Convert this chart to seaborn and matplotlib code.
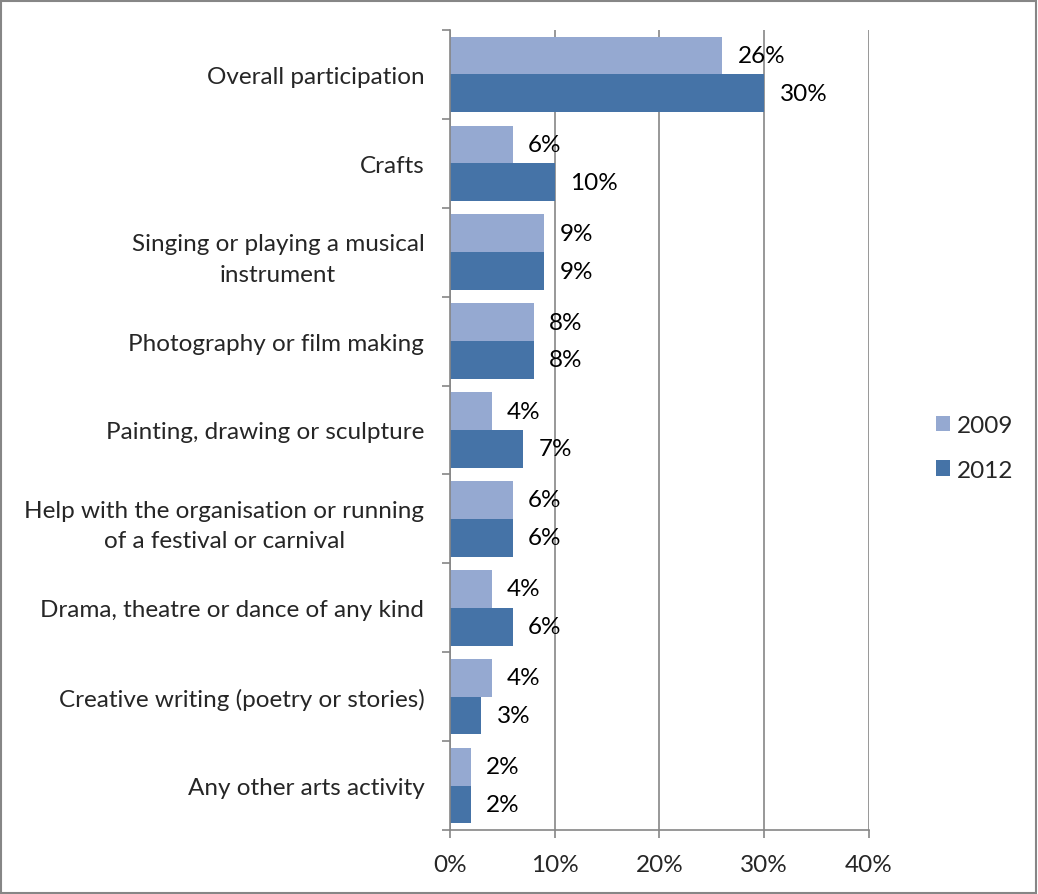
import matplotlib
matplotlib.use("Agg")
import matplotlib.pyplot as plt
import seaborn as sns
import pandas as pd
import numpy as np
from matplotlib.patches import Rectangle

categories = [
    "Overall participation",
    "Crafts",
    "Singing or playing a musical\ninstrument",
    "Photography or film making",
    "Painting, drawing or sculpture",
    "Help with the organisation or running\nof a festival or carnival",
    "Drama, theatre or dance of any kind",
    "Creative writing (poetry or stories)",
    "Any other arts activity",
]
values_2009 = [26, 6, 9, 8, 4, 6, 4, 4, 2]
values_2012 = [30, 10, 9, 8, 7, 6, 6, 3, 2]
years = ["2009", "2012"]
x_ticks = [0, 10, 20, 30, 40]

df = pd.DataFrame({
    "category": categories * 2,
    "year": [years[0]] * len(categories) + [years[1]] * len(categories),
    "value": values_2009 + values_2012,
})

sns.set_style("white")
plt.rcParams["font.family"] = ["Lato", "DejaVu Sans"]
FS = 17.5

fig = plt.figure(figsize=(10.38, 8.95), dpi=100)
ax = fig.add_axes([0.4335, 0.0715, 0.8372 - 0.4335, 0.9654 - 0.0715])

palette = {"2009": "#95A9D1", "2012": "#4573A7"}
sns.barplot(data=df, y="category", x="value", hue="year", orient="h",
            palette=palette, width=0.85, ax=ax, saturation=1,
            order=categories, hue_order=years, legend=True, linewidth=0)

for container in ax.containers:
    vals = [int(round(b.get_width())) for b in container]
    ax.bar_label(container, labels=[f"{v}%" for v in vals], padding=11,
                 fontsize=FS, color="black")

grey = "#868686"
ax.set_xlim(0, 40)
ax.set_ylim(len(categories) - 0.5, -0.5)
ax.set_xticks(x_ticks)
ax.set_xticklabels([f"{t}%" for t in x_ticks], fontsize=FS)
ax.xaxis.grid(True, color=grey, linewidth=1.2)
ax.set_axisbelow(True)
ax.tick_params(axis="x", length=6, width=1.2, color=grey, pad=11, bottom=True)

ax.set_yticks(np.arange(len(categories)))
ax.set_yticklabels(categories, fontsize=FS, multialignment="center",
                   linespacing=1.55)
ax.tick_params(axis="y", which="major", length=0, pad=18.5)
ax.set_yticks(np.arange(len(categories) + 1) - 0.5, minor=True)
ax.tick_params(axis="y", which="minor", length=6, width=1.2, color=grey, left=True)

for side in ["top", "right"]:
    ax.spines[side].set_visible(False)
for side in ["left", "bottom"]:
    ax.spines[side].set_color(grey)
    ax.spines[side].set_linewidth(1.2)

ax.set_xlabel("")
ax.set_ylabel("")

ax.legend(loc="center left", bbox_to_anchor=(0.9017, 0.4983),
          bbox_transform=fig.transFigure, frameon=False,
          fontsize=FS, handlelength=0.58, handleheight=0.58,
          handletextpad=0.3, labelspacing=0.95, borderpad=0, borderaxespad=0)

fig.patches.append(Rectangle((0.001, 0.001), 0.997, 0.997, transform=fig.transFigure,
                             fill=False, edgecolor=grey, linewidth=1.5))

fig.savefig("out.png", dpi=100, facecolor="white")
